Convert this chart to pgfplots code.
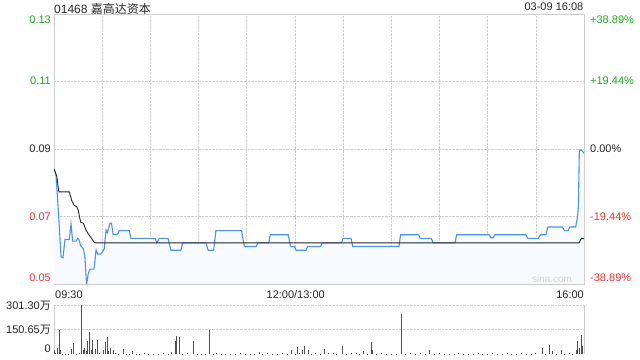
\documentclass[border=0pt]{standalone}
\usepackage{pgfplots}
\usepackage{pgfplotstable}
\pgfplotsset{compat=1.18}
\usepackage{fontspec}
\setmainfont{Liberation Sans}
\newfontfamily\cjk{Noto Sans CJK SC}
\definecolor{upg}{RGB}{30,170,30}
\definecolor{dnr}{RGB}{240,50,50}
\definecolor{blu}{RGB}{80,145,240}
\definecolor{fillb}{RGB}{247,250,255}
\definecolor{bord}{RGB}{205,205,205}
\definecolor{gridc}{RGB}{205,205,205}
\definecolor{txt}{RGB}{40,40,40}
\definecolor{volc}{RGB}{80,80,80}

\pgfplotstableread{
t p
0 0.0841
1.2 0.0825
2.7 0.0719
4.4 0.0580
5.6 0.0578
6.8 0.0632
9.5 0.0632
10.6 0.0678
11.6 0.0627
13.8 0.0627
14.7 0.0635
15.5 0.0632
16.6 0.0613
18.3 0.0605
19.3 0.0578
20.3 0.0497
21.3 0.0530
22.4 0.0544
24.9 0.0544
26.2 0.0601
27.2 0.0589
29.1 0.0589
30.5 0.0597
31.3 0.0605
32.4 0.0660
33.2 0.0652
34.9 0.0680
35.8 0.0680
36.8 0.0647
39.5 0.0647
40.7 0.0658
46.8 0.0658
48 0.0635
63 0.0635
64 0.0622
65.5 0.0635
71 0.0635
72.8 0.0600
79 0.0600
80.1 0.0622
94.6 0.0622
96 0.0600
99.4 0.0600
100.8 0.0658
116.8 0.0658
118.5 0.0611
125.8 0.0611
127 0.0622
133.7 0.0622
134.7 0.0646
145.8 0.0646
147.3 0.0611
149.7 0.0611
150.7 0.0600
157 0.0600
157.8 0.0611
166 0.0611
167 0.0622
179 0.0622
180 0.0635
185 0.0635
186 0.0611
214.8 0.0611
215.8 0.0646
227 0.0646
228 0.0635
235 0.0635
236 0.0622
249.7 0.0622
250.7 0.0646
271 0.0646
272 0.0637
273.5 0.0637
274.5 0.0646
293.7 0.0646
295 0.0635
301.6 0.0635
302.8 0.0646
306.3 0.0646
307.5 0.0669
316.5 0.0669
317.8 0.0658
320 0.0658
321.2 0.0669
324.8 0.0669
326 0.0700
326.5 0.0729
327.1 0.0897
328.5 0.0897
330 0.0887
}\bluedata

\pgfplotstableread{
t p
0 0.0841
1.8 0.0818
3 0.0773
9.5 0.0773
11 0.0748
12.5 0.0733
14.1 0.0729
15 0.0720
16.6 0.0683
18.3 0.0680
19.9 0.0660
21.4 0.0648
23.4 0.0635
25.1 0.0623
26 0.0622
327 0.0622
328.3 0.0635
330 0.0635
}\avgdata

\pgfplotstableread{
t v
0 22
1 8
2 37
3.3 145
4 22
5 3
7 2
9 3
11 33
12 67
14 3
16 4
17.2 301
18.3 22
18.9 37
20 16
21 77
22.2 138
23 26
24.1 88
25.5 31
27 88
28.5 4
30.7 26
32 71
33.2 102
34 16
35.3 37
36.9 22
38 4
40 3
43.2 33
45 3
47 2
49 16
51 3
53 2
56 4
59 3
62 3
65 2
68 4
71 3
73 10
75.3 83
76.4 112
78 102
80 3
83 4
86.8 77
89 3
92 3
94 2
96.7 149
99 3
101 5
104 3
107 3
110 2
113 3
116 4
119 3
122 2
125 3
127.9 12
130 3
133 4
136 2
139 3
142 4
145 3
148 26
150 3
151.5 41
153 4
154.6 26
155.9 47
158.3 22
160 3
163 4
166 3
168.3 33
171 4
174 5
176 3
179.5 47
182 3
185 6
188 4
190 3
192.6 16
195 3
197.8 71
198.5 26
201 3
204 4
207 3
210 3
213 2
216.5 246
219 3
222 4
225 3
228 4
231 3
234 26
237 3
240 4
243 3
246 2
249 3
252 4
255 3
258 3
261 2
264 4
267 3
270 3
273 4
276 3
279 2
282 4
285 3
288 3
291 5
294 3
297 3
300 4
304 37
306 3
308.4 57
310 16
313 3
315.7 26
318 3
321 4
323 3
325.5 26
326.1 81
327 37
328.1 118
328.9 51
}\voldata

\begin{document}
\begin{tikzpicture}[font=\fontsize{11bp}{13bp}\selectfont]
\path[use as bounding box, fill=white] (0bp,0bp) rectangle (640bp,360bp);
% main price panel
\begin{axis}[at={(54bp,76bp)}, anchor=south west, scale only axis,
  width=530bp, height=270bp,
  xmin=0, xmax=330, ymin=0.05, ymax=0.13,
  xtick={30,60,...,300}, ytick={0.07,0.09,0.11},
  xticklabels={}, yticklabels={},
  major tick length=0pt,
  grid=major, major grid style={gridc, densely dotted, line width=0.6bp},
  axis line style={bord, line width=0.8bp},
  clip=true]
\addplot[fill=fillb, draw=none] table[x=t,y=p]{\bluedata} \closedcycle;
\addplot[blu, line width=1.1bp, mark=none] table[x=t,y=p]{\bluedata};
\addplot[black!85, line width=0.9bp, mark=none] table[x=t,y=p]{\avgdata};
\end{axis}
% volume panel
\begin{axis}[at={(54bp,6bp)}, anchor=south west, scale only axis,
  width=530bp, height=49bp,
  xmin=0, xmax=330, ymin=0, ymax=301.3,
  axis x line=none, axis y line=left, axis line style={bord, -, line width=0.8bp},
  xtick=\empty, ytick={150.65,301.3}, yticklabels={},
  major tick length=0pt,
  ymajorgrids, major grid style={gridc, densely dotted, line width=0.8bp},
  clip=false]
\addplot[ycomb, volc, line width=0.7bp, mark=none] table[x=t,y=v]{\voldata};
\draw[bord, line width=0.8bp] (rel axis cs:1,0) -- (rel axis cs:1,1);
\end{axis}
% texts
\begin{scope}[every node/.style={inner sep=0pt}]
\node[anchor=west, text=txt, font=\fontsize{12bp}{14bp}\selectfont] at (54bp,351.5bp) {01468 {\cjk 嘉高达资本}};
\node[anchor=east, text=txt] at (583.5bp,353bp) {03-09 16:08};
\node[anchor=east, text=upg] at (51bp,340bp) {0.13};
\node[anchor=east, text=upg] at (51bp,279bp) {0.11};
\node[anchor=east, text=txt] at (51bp,211bp) {0.09};
\node[anchor=east, text=dnr] at (51bp,143bp) {0.07};
\node[anchor=east, text=dnr] at (51bp,82bp) {0.05};
\node[anchor=west, text=upg] at (590bp,340bp) {+38.89\%};
\node[anchor=west, text=upg] at (590bp,279bp) {+19.44\%};
\node[anchor=west, text=txt] at (590bp,211bp) {0.00\%};
\node[anchor=west, text=dnr] at (590bp,143bp) {-19.44\%};
\node[anchor=west, text=dnr] at (590bp,82bp) {-38.89\%};
\node[anchor=west, text=txt] at (55bp,65bp) {09:30};
\node[anchor=center, text=txt] at (295.7bp,65bp) {12:00/13:00};
\node[anchor=east, text=txt] at (584bp,65bp) {16:00};
\node[anchor=east, text=txt] at (51bp,54bp) {301.30{\cjk 万}};
\node[anchor=east, text=txt] at (51bp,30.5bp) {150.65{\cjk 万}};
\node[anchor=east, text=txt] at (51bp,11bp) {0};
\node[anchor=center, text=black!18, font=\fontsize{10bp}{12bp}\selectfont] at (552bp,81bp) {sina.com};
\end{scope}
\end{tikzpicture}
\end{document}
